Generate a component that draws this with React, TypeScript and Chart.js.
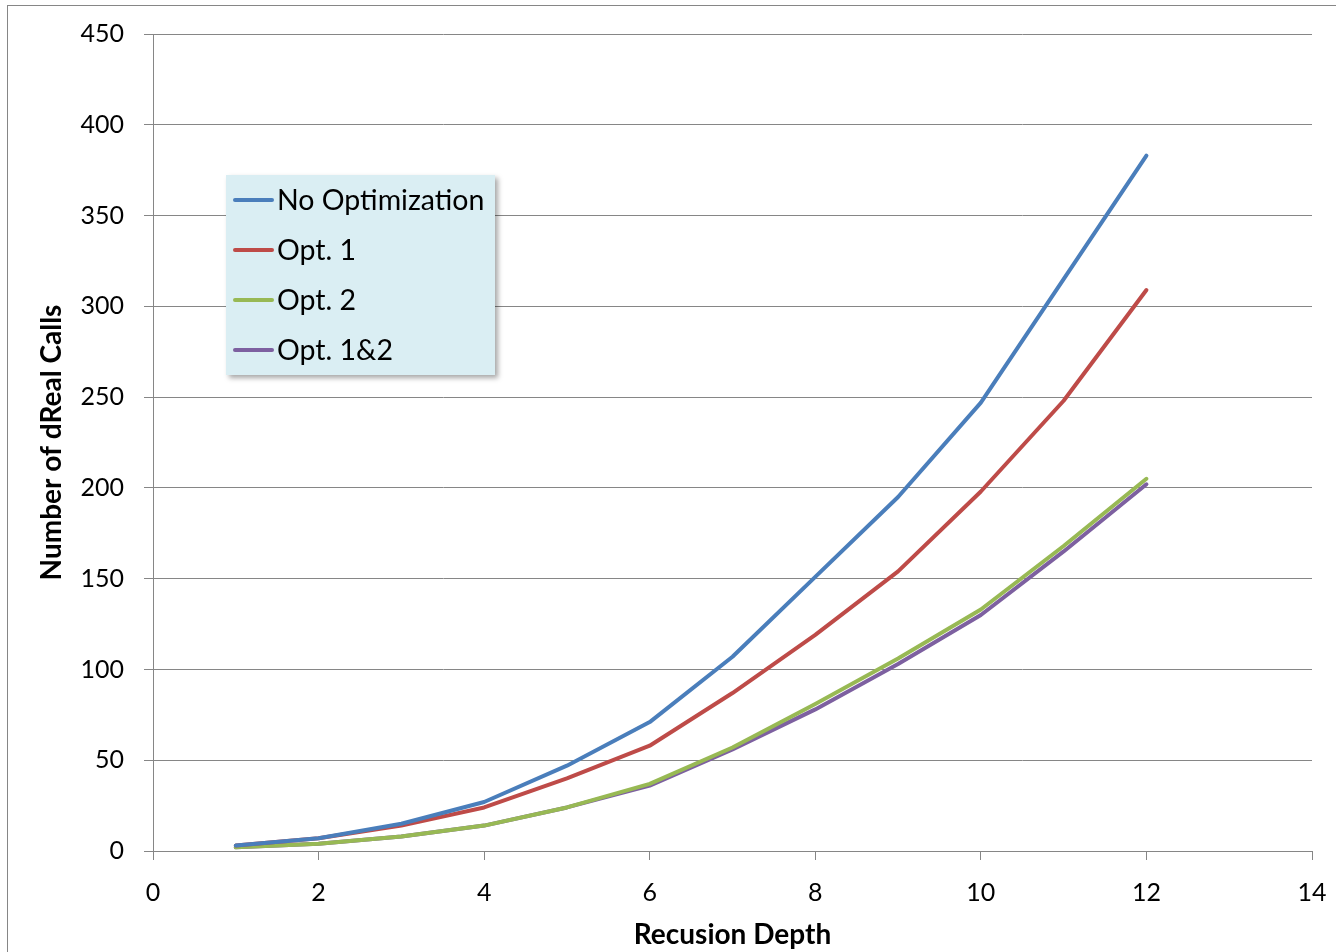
import React, { useEffect, useRef } from "react";
import { Chart, registerables } from "chart.js";

Chart.register(...registerables);

const depths = [1, 2, 3, 4, 5, 6, 7, 8, 9, 10, 11, 12];
const noOptimization = [3, 7, 15, 27, 47, 71, 107, 151, 195, 247, 315, 383];
const opt1 = [3, 7, 14, 24, 40, 58, 87, 119, 154, 198, 248, 309];
const opt2 = [2, 4, 8, 14, 24, 37, 57, 81, 106, 133, 168, 205];
const opt12 = [2, 4, 8, 14, 24, 36, 56, 78, 103, 130, 165, 202];

const seriesNames = ["No Optimization", "Opt. 1", "Opt. 2", "Opt. 1&2"];
const seriesColors = ["#4A7EBB", "#BE4B48", "#98B954", "#7D60A0"];
const seriesValues = [noOptimization, opt1, opt2, opt12];

const xTitle = "Recusion Depth";
const yTitle = "Number of dReal Calls";

const FONT = "Lato";
const GRID = "#868686";

const framePlugin = {
  id: "frame",
  beforeDraw(chart: any) {
    const ctx = chart.ctx;
    ctx.save();
    ctx.fillStyle = "#ffffff";
    ctx.fillRect(0, 0, chart.width, chart.height);
    ctx.strokeStyle = GRID;
    ctx.lineWidth = 1;
    ctx.strokeRect(7.5, 5.5, 3000, 3000);
    ctx.restore();
  },
};

const boxLegendPlugin = {
  id: "boxLegend",
  afterDatasetsDraw(chart: any) {
    const ctx = chart.ctx;
    const x = 226, y = 175, w = 269, h = 200;
    ctx.save();
    ctx.shadowColor = "rgba(0,0,0,0.35)";
    ctx.shadowBlur = 5;
    ctx.shadowOffsetX = 3;
    ctx.shadowOffsetY = 3;
    ctx.fillStyle = "#DAEEF3";
    ctx.fillRect(x, y, w, h);
    ctx.restore();
    ctx.save();
    ctx.font = `28.5px ${FONT}`;
    ctx.textBaseline = "middle";
    ctx.textAlign = "left";
    chart.data.datasets.forEach((ds: any, i: number) => {
      const cy = 200 + i * 50;
      ctx.strokeStyle = ds.borderColor;
      ctx.lineWidth = 4;
      ctx.lineCap = "round";
      ctx.beginPath();
      ctx.moveTo(235, cy);
      ctx.lineTo(272, cy);
      ctx.stroke();
      ctx.fillStyle = "#000000";
      ctx.fillText(ds.label, 277, cy + 1);
    });
    ctx.restore();
  },
};

export default function App() {
  const ref = useRef<HTMLCanvasElement>(null);
  useEffect(() => {
    if (!ref.current) return;
    const chart = new Chart(ref.current, {
      type: "line",
      data: {
        datasets: seriesNames.map((name, i) => ({
          label: name,
          data: depths.map((d, j) => ({ x: d, y: seriesValues[i][j] })),
          borderColor: seriesColors[i],
          backgroundColor: seriesColors[i],
          borderWidth: 4,
          pointRadius: 0,
          tension: 0,
          borderCapStyle: "round",
          borderJoinStyle: "round",
        })),
      },
      options: {
        responsive: false,
        animation: false,
        layout: { padding: { left: 0, top: 34, right: 24, bottom: 0 } },
        plugins: { legend: { display: false }, tooltip: { enabled: false } },
        scales: {
          x: {
            type: "linear",
            min: 0,
            max: 14,
            ticks: { stepSize: 2, color: "#000", font: { family: FONT, size: 25 }, padding: 18, maxRotation: 0 },
            grid: { drawOnChartArea: false, drawTicks: true, tickLength: 9, color: GRID, lineWidth: 1 },
            border: { display: true, color: GRID, width: 1 },
            title: { display: true, text: xTitle, color: "#000", font: { family: FONT, size: 28, weight: "bold" }, padding: { top: 0, bottom: 0 } },
            afterFit: (s: any) => { s.height = 101; s.paddingLeft = 0; s.paddingRight = 0; },
          },
          y: {
            min: 0,
            max: 450,
            ticks: { stepSize: 50, color: "#000", font: { family: FONT, size: 25 }, padding: 20 },
            grid: { drawTicks: true, tickLength: 9, color: GRID, lineWidth: 1 },
            border: { display: true, color: GRID, width: 1 },
            title: { display: true, text: yTitle, color: "#000", font: { family: FONT, size: 28, weight: "bold" }, padding: { top: 35, bottom: 0 } },
            afterFit: (s: any) => { s.width = 153; s.paddingTop = 0; s.paddingBottom = 0; },
          },
        },
      },
      plugins: [framePlugin, boxLegendPlugin],
    } as any);
    return () => chart.destroy();
  }, []);
  return (
    <div style={{ position: "absolute", left: 0, top: 0, width: 1336, height: 952 }}>
      <canvas ref={ref} width={1336} height={952} />
    </div>
  );
}
